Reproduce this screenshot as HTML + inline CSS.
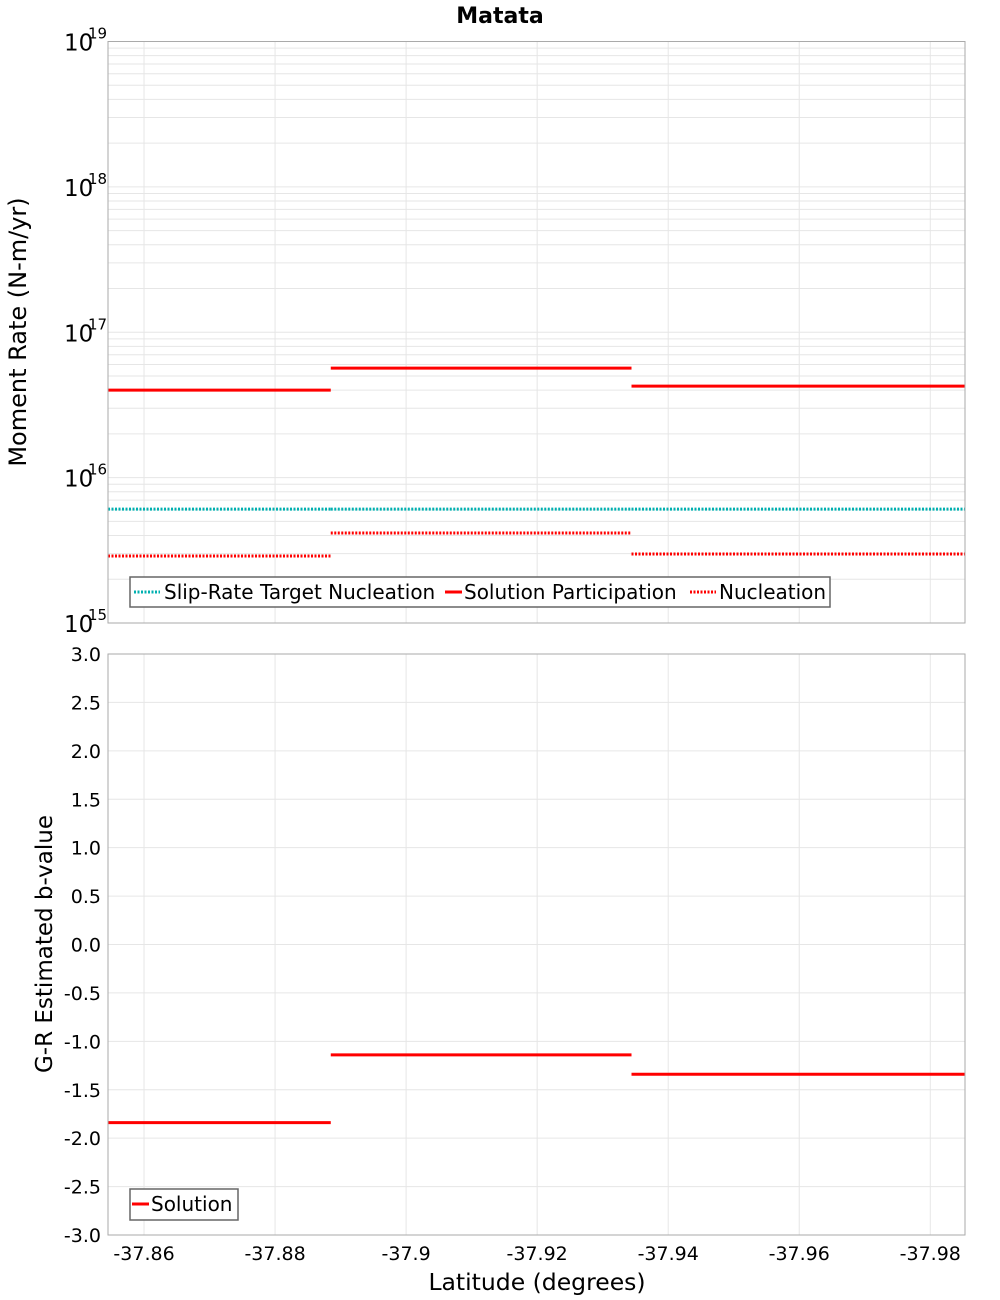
<!DOCTYPE html>
<html><head><meta charset="utf-8"><style>
body{margin:0;background:#fff;}
svg text{font-family:"DejaVu Sans","Liberation Sans",sans-serif;}
</style></head><body>
<svg id="chart" width="1000" height="1300" xmlns="http://www.w3.org/2000/svg" style="position:absolute;left:0;top:0">
<text x="500" y="23" text-anchor="middle" font-size="22" font-weight="bold">Matata</text>
<g id="topg"></g><g id="botg"></g>
<text transform="translate(26,332) rotate(-90)" text-anchor="middle" font-size="24">Moment Rate (N-m/yr)</text>
<text transform="translate(52,944) rotate(-90)" text-anchor="middle" font-size="23">G-R Estimated b-value</text>
<text x="537" y="1290" text-anchor="middle" font-size="23.5">Latitude (degrees)</text>
<g font-size="20">
<rect x="130" y="577" width="700" height="30" fill="#fff" stroke="#666" stroke-width="1.5"/>
<line x1="134" x2="160" y1="592" y2="592" stroke="#00b0b0" stroke-width="3" stroke-dasharray="2,1.5"/>
<text x="164" y="599">Slip-Rate Target Nucleation</text>
<line x1="445" x2="462" y1="592" y2="592" stroke="#f00" stroke-width="3"/>
<text x="464" y="599">Solution Participation</text>
<line x1="690" x2="716" y1="592" y2="592" stroke="#f00" stroke-width="3" stroke-dasharray="2,1.5"/>
<text x="719" y="599">Nucleation</text>
</g>
<g font-size="20">
<rect x="130" y="1189" width="108" height="31" fill="#fff" stroke="#666" stroke-width="1.5"/>
<line x1="132" x2="149" y1="1204" y2="1204" stroke="#f00" stroke-width="3"/>
<text x="151" y="1211">Solution</text>
</g>
</svg>
<script>
const segStarts=[-37.8545,-37.8885,-37.9344];
const segEnds=[-37.8885,-37.9344,-37.9853];
const participation=[4.0e16,5.66e16,4.26e16];
const nucleation=[2.89e15,4.16e15,2.98e15];
const targetNucleation=[6.07e15,6.07e15,6.07e15];
const bValues=[-1.84,-1.14,-1.34];
const xTicks=[-37.86,-37.88,-37.9,-37.92,-37.94,-37.96,-37.98];
const xTickLabels=["-37.86","-37.88","-37.9","-37.92","-37.94","-37.96","-37.98"];
const bTicks=[3,2.5,2,1.5,1,0.5,0,-0.5,-1,-1.5,-2,-2.5,-3];
const decades=[15,16,17,18,19];

const NS="http://www.w3.org/2000/svg";
const L=108,R=965,XMIN=-37.8545,XMAX=-37.9853;
const TT=41.5,TB=623,BT=654,BB=1235;
function xs(v){return L+(v-XMIN)/(XMAX-XMIN)*(R-L);}
function ylog(v){return TB-(Math.log10(v)-15)/4*(TB-TT);}
function yb(v){return BB-(v+3)/6*(BB-BT);}
function mk(p,t,a){const e=document.createElementNS(NS,t);for(const k in a)e.setAttribute(k,a[k]);p.appendChild(e);return e;}
const topG=document.getElementById('topg'),botG=document.getElementById('botg');

for(let d=15;d<19;d++)for(let m=1;m<10;m++){const y=ylog(m*Math.pow(10,d));
 const g=mk(topG,'line',{x1:L,x2:R,y1:y,y2:y,stroke:'#e6e6e6','stroke-width':1});
 
 }
xTicks.forEach((v,i)=>{const x=xs(v);
 const g=mk(topG,'line',{x1:x,x2:x,y1:TT,y2:TB,stroke:'#e6e6e6'});
 
 
 const g2=mk(botG,'line',{x1:x,x2:x,y1:BT,y2:BB,stroke:'#e6e6e6'});
 
 
 const t=mk(botG,'text',{x:x,y:1260,'text-anchor':'middle','font-size':19});
 t.textContent=xTickLabels[i];
 
 });
decades.forEach(d=>{const y=ylog(Math.pow(10,d));
 const t=mk(topG,'text',{x:64,y:y+9,'font-size':23});t.textContent='10';
 
 
 const s=mk(topG,'text',{x:88,y:y-3,'font-size':15});s.textContent=String(d);
 
 });
bTicks.forEach(v=>{const y=yb(v);
 const g=mk(botG,'line',{x1:L,x2:R,y1:y,y2:y,stroke:'#e6e6e6'});
 
 
 const t=mk(botG,'text',{x:101,y:y+7,'text-anchor':'end','font-size':19});t.textContent=v.toFixed(1);
 
 });

function seg(p,vals,f,color,dash,name){vals.forEach((v,i)=>{const y=f(v);
 const a={x1:xs(segStarts[i]),x2:xs(segEnds[i]),y1:y,y2:y,stroke:color,'stroke-width':3};
 if(dash)a['stroke-dasharray']='2,1.5';
 const e=mk(p,'line',a);
 
 });}
seg(topG,targetNucleation,ylog,'#00b0b0',true,'target-nucleation-segment');
seg(topG,participation,ylog,'#ff0000',false,'participation-segment');
seg(topG,nucleation,ylog,'#ff0000',true,'nucleation-segment');
seg(botG,bValues,yb,'#ff0000',false,'b-value-segment');

const f1=mk(topG,'rect',{x:L,y:TT,width:R-L,height:TB-TT,fill:'none',stroke:'#aaa'});


const f2=mk(botG,'rect',{x:L,y:BT,width:R-L,height:BB-BT,fill:'none',stroke:'#aaa'});


</script>
</body></html>
